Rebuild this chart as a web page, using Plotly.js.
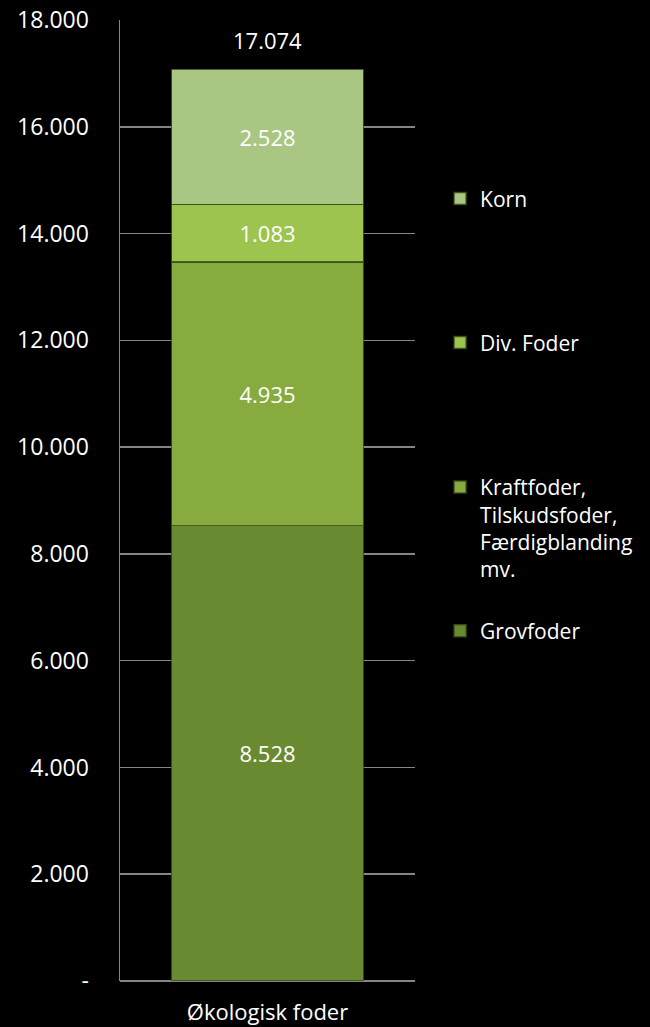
<!DOCTYPE html>
<html>
<head>
<meta charset="utf-8">
<script src="https://cdn.plot.ly/plotly-3.0.1.min.js"></script>
<style>
  html, body { margin: 0; padding: 0; background: #000; }
  #chart { width: 650px; height: 1027px; }
</style>
</head>
<body>
<div id="chart"></div>
<script>
const categories = ["Økologisk foder"];
const seriesNames = ["Grovfoder", "Kraftfoder,<br>Tilskudsfoder,<br>Færdigblanding<br>mv.", "Div. Foder", "Korn"];
const grovfoder = [8528];
const kraftfoder = [4935];
const divFoder = [1083];
const korn = [2528];
const tickVals = [0, 2000, 4000, 6000, 8000, 10000, 12000, 14000, 16000, 18000];
const tickText = ["-", "2.000", "4.000", "6.000", "8.000", "10.000", "12.000", "14.000", "16.000", "18.000"];

const colors = ["#6a8a32", "#87ab3f", "#9cc44f", "#aac683"];
const values = [grovfoder, kraftfoder, divFoder, korn];
const legendIds = ["legend4", "legend3", "legend2", "legend"];
const FONT = "Open Sans, Liberation Sans, sans-serif";

const traces = values.map((v, i) => ({
  type: "bar",
  x: categories,
  y: v,
  name: seriesNames[i],
  legend: legendIds[i],
  marker: { color: colors[i], line: { color: "rgba(60,80,25,0.85)", width: 1.5 } },
  texttemplate: "%{y:,.0f}",
  textposition: "inside",
  insidetextanchor: "middle",
  textangle: 0,
  textfont: { color: "#ffffff", size: 22, family: FONT },
  hoverinfo: "skip"
}));

const totals = categories.map((c, k) => values.reduce((s, arr) => s + arr[k], 0));

const legendBase = {
  x: 1.085, xanchor: "left",
  bgcolor: "rgba(0,0,0,0)",
  font: { color: "#ffffff", size: 21, family: FONT },
  valign: "top",
  itemclick: false, itemdoubleclick: false
};

const layout = {
  width: 650, height: 1027,
  paper_bgcolor: "#000000",
  plot_bgcolor: "#000000",
  separators: ",.",
  barmode: "stack",
  bargap: 0.35,
  margin: { l: 120, r: 232, t: 20, b: 46 },
  showlegend: true,
  font: { family: FONT, color: "#ffffff", size: 22 },
  xaxis: {
    type: "category",
    showgrid: false,
    showline: false,
    zeroline: false,
    ticks: "outside", ticklen: 12, tickcolor: "rgba(0,0,0,0)",
    tickfont: { color: "#ffffff", size: 22, family: FONT }
  },
  yaxis: {
    range: [0, 18000],
    tickvals: tickVals,
    ticktext: tickText,
    showgrid: true,
    gridcolor: "#858585",
    gridwidth: 1.5,
    showline: true,
    linecolor: "#858585",
    linewidth: 1.5,
    zeroline: true,
    zerolinecolor: "#858585",
    zerolinewidth: 1.5,
    ticks: "outside", ticklen: 25, tickcolor: "rgba(0,0,0,0)",
    tickfont: { color: "#ffffff", size: 23, family: FONT },
    fixedrange: true
  },
  legend:  Object.assign({}, legendBase, { y: 0.814, yanchor: "middle" }),
  legend2: Object.assign({}, legendBase, { y: 0.664, yanchor: "middle" }),
  legend3: Object.assign({}, legendBase, { y: 0.535, yanchor: "top" }),
  legend4: Object.assign({}, legendBase, { y: 0.364, yanchor: "middle" }),
  annotations: categories.map((c, k) => ({
    x: c, y: totals[k], xref: "x", yref: "y",
    text: totals[k].toLocaleString("da-DK"),
    showarrow: false, yanchor: "bottom", yshift: 12,
    font: { color: "#ffffff", size: 22, family: FONT }
  }))
};

Plotly.newPlot("chart", traces, layout, { staticPlot: true, displayModeBar: false });
</script>
</body>
</html>
